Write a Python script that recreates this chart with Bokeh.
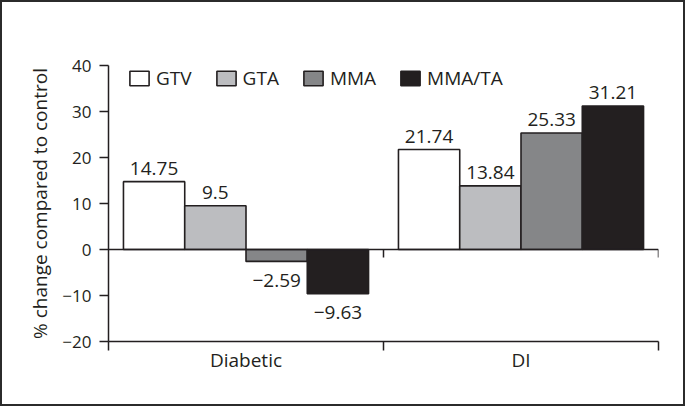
from bokeh.plotting import figure
from bokeh.models import (ColumnDataSource, FixedTicker, LinearAxis, Range1d,
                          Legend, LegendItem)
from bokeh.core.properties import value
from bokeh.embed import file_html
from bokeh.resources import INLINE

# ---- data ----
groups = ["Diabetic", "DI"]
series = ["GTV", "GTA", "MMA", "MMA/TA"]
diabetic_vals = [14.75, 9.5, -2.59, -9.63]
di_vals = [21.74, 13.84, 25.33, 31.21]
diabetic_text = ["14.75", "9.5", "\u22122.59", "\u22129.63"]
di_text = ["21.74", "13.84", "25.33", "31.21"]
fill_colors = ["#ffffff", "#bcbdc0", "#858688", "#231f20"]
y_ticks = [-20, -10, 0, 10, 20, 30, 40]

INK = "#231f20"
FONT = "Open Sans"
FS = "19px"
TICK_FS = "17px"
BAR_W = 0.2228

p = figure(width=685, height=406, x_range=Range1d(0, 2), y_range=Range1d(-20, 40),
           output_backend="svg", toolbar_location=None,
           x_axis_type=None, y_axis_type=None,
           min_border_left=106, min_border_right=29, min_border_top=63, min_border_bottom=67)
p.outline_line_color = None
p.background_fill_color = "white"
p.border_fill_color = "white"
p.styles = {"border": "2px solid #2b2b2b"}

renderers = []
for i, s in enumerate(series):
    vals = [diabetic_vals[i], di_vals[i]]
    xs = [g + 0.5 + (i - 1.5) * BAR_W for g in range(len(groups))]
    src = ColumnDataSource(dict(
        x=xs, top=vals,
        label=[diabetic_text[i], di_text[i]],
        yoff=[-13 if v >= 0 else 19 for v in vals],
    ))
    r = p.vbar(x="x", top="top", bottom=0, width=BAR_W, source=src,
               fill_color=fill_colors[i], line_color=INK, line_width=1.6)
    renderers.append(r)
    p.text(x="x", y="top", text="label", source=src, y_offset="yoff",
           text_align="center", text_baseline="alphabetic",
           text_font=value(FONT), text_font_size=FS, text_color=INK)

# y axis
yax = LinearAxis(ticker=FixedTicker(ticks=y_ticks, minor_ticks=[]),
                 axis_label="% change compared to control",
                 major_label_overrides={t: (str(t) if t >= 0 else "\u2212" + str(-t)) for t in y_ticks},
                 major_tick_out=9, major_tick_in=0, minor_tick_out=0, minor_tick_in=0,
                 major_label_standoff=8, axis_label_standoff=6,
                 axis_line_color=INK, axis_line_width=1.5,
                 major_tick_line_color=INK, major_tick_line_width=1.5,
                 major_label_text_font=FONT, major_label_text_font_size=TICK_FS,
                 major_label_text_color=INK,
                 axis_label_text_font=FONT, axis_label_text_font_size=FS,
                 axis_label_text_color=INK, axis_label_text_font_style="normal")
p.add_layout(yax, "left")

# x axis (bottom, at -20)
xax = LinearAxis(ticker=FixedTicker(ticks=[g + 0.5 for g in range(len(groups))],
                                    minor_ticks=list(range(len(groups) + 1))),
                 major_label_overrides={g + 0.5: name for g, name in enumerate(groups)},
                 major_tick_out=0, major_tick_in=0,
                 minor_tick_out=9, minor_tick_in=0,
                 major_label_standoff=-4,
                 axis_line_color=INK, axis_line_width=1.5,
                 minor_tick_line_color=INK, minor_tick_line_width=1.5,
                 major_label_text_font=FONT, major_label_text_font_size=FS,
                 major_label_text_color=INK)
p.add_layout(xax, "below")

# zero line with group-boundary ticks
zax = LinearAxis(fixed_location=0,
                 ticker=FixedTicker(ticks=[], minor_ticks=list(range(1, len(groups) + 1))),
                 major_tick_out=0, major_tick_in=0,
                 minor_tick_out=8, minor_tick_in=0,
                 axis_line_color=INK, axis_line_width=1.5,
                 minor_tick_line_color=INK, minor_tick_line_width=1.5,
                 major_label_text_font_size="0px")
p.add_layout(zax, "below")

legend = Legend(items=[LegendItem(label=s, renderers=[r]) for s, r in zip(series, renderers)],
                orientation="horizontal", location=(19, 250),
                glyph_width=24, glyph_height=18, label_standoff=5, spacing=22,
                padding=0, margin=0, border_line_color=None, background_fill_alpha=0,
                label_text_font=FONT, label_text_font_size=FS, label_text_color=INK)
p.add_layout(legend)

open("out.html", "w").write(file_html(p, INLINE))
